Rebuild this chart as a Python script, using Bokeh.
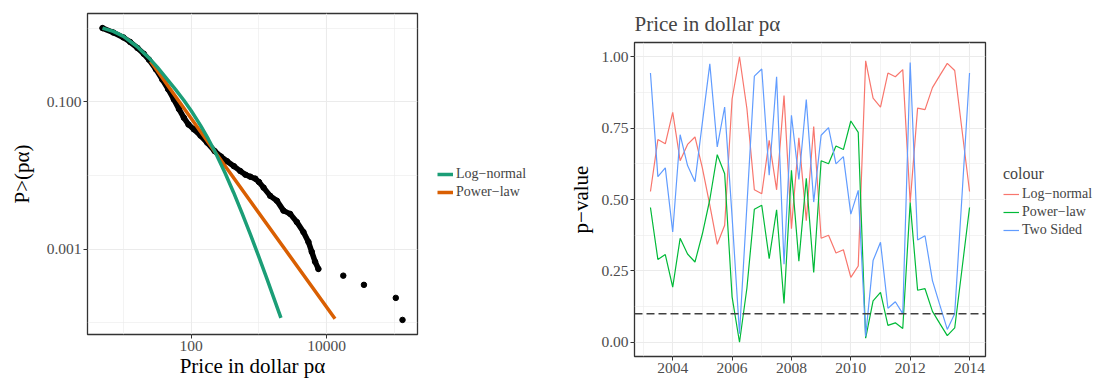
import math
from bokeh.plotting import figure
from bokeh.models import (FixedTicker, NumeralTickFormatter, Legend, LegendItem,
                          Span, Range1d, ColumnDataSource)
from bokeh.layouts import row, column
from bokeh.embed import file_html
from bokeh.resources import INLINE

# ---------------- data: left panel (complementary CDF, log-log) ----------------
ccdf_price = [4.91, 7.08, 10.0, 12.6, 16.1, 19.95, 23.8, 30.2, 37.5, 45.7, 55.5,
              66.1, 77.8, 91.2, 109.1, 137.1, 171.8, 221.3, 275.4, 338.0, 426.6,
              530.9, 631.0, 744.7, 883.0, 1000.0, 1169.5, 1465.5, 1840.8, 2301.0,
              2884.0, 3622.0, 4529.0, 5370.0, 6012.0, 6730.0, 7534.0]
ccdf_prob = [1.0, 0.871, 0.746, 0.646, 0.537, 0.447, 0.373, 0.275, 0.2, 0.148, 0.1074,
             0.0794, 0.0608, 0.049, 0.0423, 0.0347, 0.0279, 0.0214, 0.018, 0.01556, 0.01334,
             0.01143, 0.01023, 0.0096, 0.00902, 0.00813, 0.00682, 0.00527, 0.00452, 0.00332,
             0.0030, 0.00232, 0.0017, 0.00125, 0.000916, 0.000673, 0.000536]
tail_price = [17539.0, 35400.0, 104470.0, 131220.0]
tail_prob = [0.000435, 0.000326, 0.000217, 0.000109]

lognormal_price = [4.91, 7.08, 10.0, 15.85, 23.77, 31.62, 44.36, 58.88, 77.8, 100.0,
                   137.1, 177.8, 227.5, 316.2, 423.6, 562.3, 744.7, 1000.0, 1312.0, 2109.0]
lognormal_prob = [1.0, 0.9016, 0.7709, 0.5623, 0.3936, 0.2951, 0.2018, 0.1462, 0.1047,
                  0.0755, 0.04775, 0.03148, 0.02046, 0.01076, 0.005821, 0.003076,
                  0.001589, 0.000778, 0.000394, 0.0001161]

powerlaw_price = [25.1, 221.0, 13240.0]
powerlaw_prob = [0.355, 0.0212, 0.000113]

left_series = ["Log−normal", "Power−law"]
left_colors = ["#1B9E77", "#D95F02"]

# ---------------- data: right panel (p-values by quarter) ----------------
quarters = [2003.25 + 0.25 * i for i in range(44)]
p_lognormal = [0.528, 0.71, 0.695, 0.805, 0.636, 0.693, 0.719, 0.61, 0.48, 0.343, 0.41,
               0.852, 1.0, 0.818, 0.534, 0.52, 0.707, 0.534, 0.864, 0.398, 0.716, 0.426,
               0.756, 0.364, 0.375, 0.3125, 0.324, 0.227, 0.267, 0.986, 0.855, 0.824,
               0.943, 0.93, 0.955, 0.489, 0.82, 0.815, 0.892, 0.935, 0.977, 0.952, 0.74, 0.528]
p_powerlaw = [0.472, 0.29, 0.307, 0.193, 0.364, 0.309, 0.281, 0.38, 0.50, 0.657, 0.59,
              0.159, 0.0, 0.19, 0.466, 0.48, 0.293, 0.464, 0.136, 0.602, 0.284, 0.574,
              0.244, 0.636, 0.625, 0.6875, 0.675, 0.775, 0.735, 0.014, 0.145, 0.175,
              0.059, 0.068, 0.048, 0.489, 0.182, 0.1875, 0.108, 0.065, 0.023, 0.05, 0.26, 0.472]
p_twosided = [0.943, 0.58, 0.611, 0.386, 0.727, 0.619, 0.5625, 0.77, 0.975, 0.684, 0.824,
              0.44, 0.03, 0.48, 0.932, 0.957, 0.585, 0.93, 0.273, 0.795, 0.57, 0.85,
              0.491, 0.725, 0.752, 0.625, 0.65, 0.449, 0.532, 0.02, 0.286, 0.35,
              0.119, 0.142, 0.1, 0.98, 0.358, 0.373, 0.216, 0.13, 0.045, 0.1, 0.52, 0.943]
right_series = ["Log−normal", "Power−law", "Two Sided"]
right_colors = ["#F8766D", "#00BA38", "#619CFF"]
threshold = 0.1

x_ticks_left = [100, 10000]
x_minor_left = [10, 1000, 100000]
y_ticks_left = [0.001, 0.1]
y_minor_left = [0.0001, 0.01, 1.0]
x_ticks_right = [2004, 2006, 2008, 2010, 2012, 2014]
x_minor_right = [2003, 2005, 2007, 2009, 2011, 2013, 2015]
y_ticks_right = [0.0, 0.25, 0.5, 0.75, 1.0]
y_minor_right = [0.125, 0.375, 0.625, 0.875]

FONT = "Liberation Serif"
GRID = "#EBEBEB"
DARK = "#333333"
TICKTXT = "#4D4D4D"
H = 380


def expand_log(vals, f=0.05):
    lo, hi = math.log10(min(vals)), math.log10(max(vals))
    d = (hi - lo) * f
    return 10 ** (lo - d), 10 ** (hi + d)


def expand_lin(vals, f=0.05):
    lo, hi = min(vals), max(vals)
    d = (hi - lo) * f
    return lo - d, hi + d


def style(p):
    p.outline_line_color = DARK
    p.outline_line_width = 1.3
    p.background_fill_color = "white"
    p.border_fill_color = "white"
    for ax in (p.xaxis, p.yaxis):
        ax.axis_line_color = None
        ax.major_tick_line_color = DARK
        ax.major_tick_out = 4
        ax.major_tick_in = 0
        ax.minor_tick_line_color = None
        ax.major_label_text_font = FONT
        ax.major_label_text_font_size = "15.5px"
        ax.major_label_text_color = TICKTXT
        ax.major_label_standoff = 2
        ax.axis_label_text_font = FONT
        ax.axis_label_text_font_style = "normal"
        ax.axis_label_text_color = "black"
        ax.axis_label_text_font_size = "21px"
    for g in (p.xgrid, p.ygrid):
        g.grid_line_color = GRID
        g.grid_line_width = 1.1
        g.minor_grid_line_color = GRID
        g.minor_grid_line_width = 0.6


def legend_figure(width, names, colors, widths, loc, title=None):
    # a frame-only figure that holds the key beside the panel
    f = figure(width=width, height=H, x_range=Range1d(0, 1), y_range=Range1d(0, 1),
               x_axis_location=None, y_axis_location=None, title=None,
               output_backend="svg", toolbar_location=None,
               min_border_left=0, min_border_right=0, min_border_top=0, min_border_bottom=0)
    f.outline_line_color = None
    f.background_fill_color = "white"
    f.border_fill_color = "white"
    f.grid.visible = False
    items = []
    for n, c, w in zip(names, colors, widths):
        # one undefined point: nothing is drawn, but the key swatch is
        r = f.line(x=[float("nan")], y=[float("nan")], line_color=c, line_width=w)
        items.append(LegendItem(label=n, renderers=[r]))
    kw = dict(items=items, orientation="vertical", location=loc,
              label_text_font=FONT, label_text_font_size="14px",
              glyph_width=16, glyph_height=16, label_height=16, spacing=2,
              label_standoff=3, padding=4, margin=0,
              border_line_color=None, background_fill_alpha=0)
    if title:
        kw.update(title=title, title_text_font=FONT, title_text_font_size="16px",
                  title_text_font_style="normal", title_standoff=3)
    f.add_layout(Legend(**kw))
    return f


# ---------------- left figure ----------------
xl = expand_log(ccdf_price + tail_price)
yl = expand_log(ccdf_prob + tail_prob)

left = figure(width=420, height=H, x_axis_type="log", y_axis_type="log",
              x_range=Range1d(*xl), y_range=Range1d(*yl), title=None,
              output_backend="svg", toolbar_location=None,
              min_border_left=87, min_border_right=3,
              min_border_top=13, min_border_bottom=43)
style(left)
left.xaxis.ticker = FixedTicker(ticks=x_ticks_left, minor_ticks=x_minor_left)
left.yaxis.ticker = FixedTicker(ticks=y_ticks_left, minor_ticks=y_minor_left)
left.xaxis.formatter = NumeralTickFormatter(format="0")
left.yaxis.formatter = NumeralTickFormatter(format="0.000")
left.xaxis.axis_label = "Price in dollar pα"
left.yaxis.axis_label = "P>(pα)"
left.xaxis.axis_label_standoff = 0
left.yaxis.axis_label_standoff = 10

src = ColumnDataSource(dict(x=ccdf_price, y=ccdf_prob))
left.line("x", "y", source=src, line_color="black", line_width=5.5, line_cap="round",
          line_join="round")
left.scatter("x", "y", source=src, size=5.5, color="black")
left.scatter(tail_price, tail_prob, size=5.5, color="black")
left.line(powerlaw_price, powerlaw_prob, line_color=left_colors[1], line_width=3.5)
left.line(lognormal_price, lognormal_prob, line_color=left_colors[0], line_width=3.5,
          line_join="round")

leg_left = legend_figure(128, left_series, left_colors, [3.5, 3.5], (17, 180))

# ---------------- right figure ----------------
xr = expand_lin(quarters)
yr = expand_lin(p_lognormal + p_powerlaw + p_twosided)

right = figure(width=440, height=H, x_range=Range1d(*xr), y_range=Range1d(*yr),
               output_backend="svg", toolbar_location=None,
               title="Price in dollar pα",
               min_border_left=86, min_border_right=3,
               min_border_top=42, min_border_bottom=24)
style(right)
right.title.text_font = FONT
right.title.text_font_size = "21px"
right.title.text_font_style = "normal"
right.title.standoff = 14
right.xaxis.ticker = FixedTicker(ticks=x_ticks_right, minor_ticks=x_minor_right)
right.yaxis.ticker = FixedTicker(ticks=y_ticks_right, minor_ticks=y_minor_right)
right.xaxis.formatter = NumeralTickFormatter(format="0")
right.yaxis.formatter = NumeralTickFormatter(format="0.00")
right.yaxis.axis_label = "p−value"
right.yaxis.axis_label_standoff = 5

for vals, col in zip([p_lognormal, p_powerlaw, p_twosided], right_colors):
    right.line(quarters, vals, line_color=col, line_width=1.2)

right.add_layout(Span(location=threshold, dimension="width", line_color="#404040",
                      line_width=1.4, line_dash="8 4"))

leg_right = legend_figure(108, right_series, right_colors, [1.2, 1.2, 1.2], (15, 142),
                          title="colour")

layout = row(column(left), column(leg_left), column(right), column(leg_right))
open("out.html", "w").write(file_html(layout, INLINE))
